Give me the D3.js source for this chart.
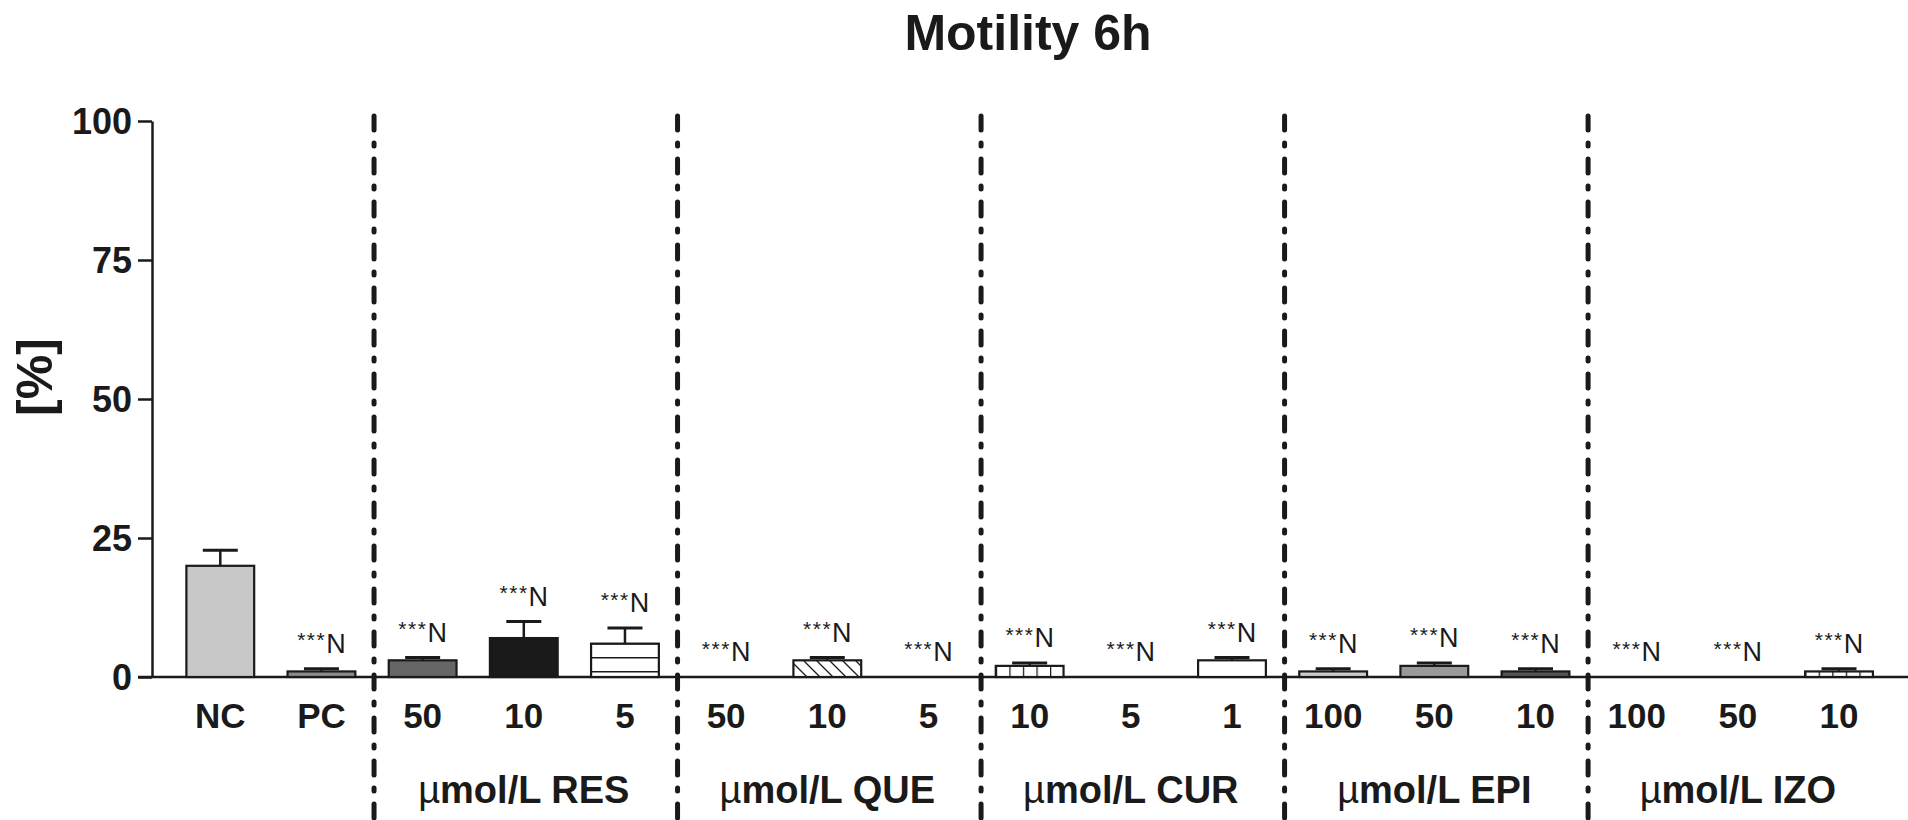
<!DOCTYPE html>
<html>
<head>
<meta charset="utf-8">
<script src="https://cdn.jsdelivr.net/npm/d3@7"></script>
<style>
  body { margin: 0; background: #fff; }
  text { font-family: "Liberation Sans", Arial, Helvetica, sans-serif; fill: #1a1a1a; }
</style>
</head>
<body>
<div class="stage"></div>
<script>
// data
var ids = ["NC","PC","RES50","RES10","RES5","QUE50","QUE10","QUE5","CUR10","CUR5","CUR1","EPI100","EPI50","EPI10","IZO100","IZO50","IZO10"];
var labels = ["NC","PC","50","10","5","50","10","5","10","5","1","100","50","10","100","50","10"];
var groupOf = [null,null,"RES","RES","RES","QUE","QUE","QUE","CUR","CUR","CUR","EPI","EPI","EPI","IZO","IZO","IZO"];
var groupNames = ["RES","QUE","CUR","EPI","IZO"];
var values = [20,1,3,7,6,0,3,0,2,0,3,1,2,1,0,0,1];
var errors = [2.8,0.5,0.5,3,2.8,0,0.5,0,0.5,0,0.5,0.5,0.5,0.5,0,0,0.5];
var signif = ["","***N","***N","***N","***N","***N","***N","***N","***N","***N","***N","***N","***N","***N","***N","***N","***N"];
var yTicks = [0,25,50,75,100];

// bar fills (styles)
var fills = ["#c8c8c8","#8a8a8a","#666666","#1a1a1a","url(#hlines)","#fff","url(#diag)","#fff","url(#vlines)","#fff","#fff","#cccccc","#999999","#555555","#fff","#fff","url(#vlines)"];

var W = 1908, H = 820;
var svg = d3.select(".stage").append("svg").attr("width", W).attr("height", H);
svg.append("rect").attr("width", W).attr("height", H).attr("fill", "#fff");

var defs = svg.append("defs");
var hp = defs.append("pattern").attr("id","hlines").attr("patternUnits","userSpaceOnUse")
  .attr("x",0).attr("y",657).attr("width",10).attr("height",14);
hp.append("rect").attr("width",10).attr("height",14).attr("fill","#fff");
hp.append("line").attr("x1",0).attr("x2",10).attr("y1",0.75).attr("y2",0.75).attr("stroke","#1a1a1a").attr("stroke-width",1.5);

var dp = defs.append("pattern").attr("id","diag").attr("patternUnits","userSpaceOnUse")
  .attr("width",13).attr("height",13);
dp.append("rect").attr("width",13).attr("height",13).attr("fill","#fff");
dp.append("path").attr("d","M-2,-2L15,15M-2,11L2,15M11,-2L15,2").attr("stroke","#1a1a1a").attr("stroke-width",1.3);

var vp = defs.append("pattern").attr("id","vlines").attr("patternUnits","objectBoundingBox")
  .attr("width",0.2).attr("height",1);
vp.append("rect").attr("width",20).attr("height",100).attr("fill","#fff");
vp.append("line").attr("x1",0.6).attr("x2",0.6).attr("y1",0).attr("y2",100).attr("stroke","#1a1a1a").attr("stroke-width",1.3);

var x = d3.scaleBand().domain(ids).range([169.7, 1889.6]).paddingInner(0.33).paddingOuter(0.165);
var y = d3.scaleLinear().domain([0,100]).range([677,121]);
var bw = x.bandwidth();

// title
svg.append("text").attr("x", 1028).attr("y", 50).attr("text-anchor","middle")
  .attr("font-size", 50).attr("font-weight","bold").text("Motility 6h");

// y label
svg.append("text").attr("transform","translate(52,377) rotate(-90)").attr("text-anchor","middle")
  .attr("font-size", 50).attr("font-weight","bold").text("[%]");

// group dividers
var dividers = [];
for (var i = 1; i < ids.length; i++) {
  if (groupOf[i] && groupOf[i] !== groupOf[i-1]) dividers.push((x(ids[i-1]) + x(ids[i]) + bw) / 2);
}
svg.selectAll("line.div").data(dividers).enter().append("line")
  .attr("class","div")
  .attr("x1", function(d){ return d + 2; }).attr("x2", function(d){ return d + 2; })
  .attr("y1", 116).attr("y2", 830)
  .attr("stroke","#1a1a1a").attr("stroke-width",5).attr("stroke-linecap","round")
  .attr("stroke-dasharray","14,13,3,13");

// y axis
var yAxis = svg.append("g").attr("transform","translate(152,0)")
  .call(d3.axisLeft(y).tickValues(yTicks).tickSize(14).tickSizeOuter(0).tickPadding(6));
yAxis.selectAll("path, line").attr("stroke","#1a1a1a").attr("stroke-width",2.5);
yAxis.selectAll("text").attr("font-size",36).attr("font-weight","bold").attr("fill","#1a1a1a")
  .attr("font-family",'"Liberation Sans", Arial, sans-serif').attr("dy","0.36em");

// baseline
svg.append("line").attr("x1",138).attr("x2",W).attr("y1",y(0)).attr("y2",y(0))
  .attr("stroke","#1a1a1a").attr("stroke-width",2.5);

var rows = ids.map(function(id, i){
  return {id:id, label:labels[i], v:values[i], e:errors[i], s:signif[i], fill:fills[i]};
});

// bars
svg.selectAll("rect.bar").data(rows.filter(function(d){ return d.v > 0; })).enter().append("rect")
  .attr("class","bar")
  .attr("x", function(d){ return x(d.id); })
  .attr("y", function(d){ return y(d.v); })
  .attr("width", bw)
  .attr("height", function(d){ return y(0) - y(d.v); })
  .attr("fill", function(d){ return d.fill; })
  .attr("stroke","#1a1a1a").attr("stroke-width",2.2);

// error bars
var eb = svg.selectAll("g.err").data(rows.filter(function(d){ return d.e > 0; })).enter().append("g").attr("class","err");
eb.append("line")
  .attr("x1", function(d){ return x(d.id) + bw/2; }).attr("x2", function(d){ return x(d.id) + bw/2; })
  .attr("y1", function(d){ return y(d.v); }).attr("y2", function(d){ return y(d.v + d.e); })
  .attr("stroke","#1a1a1a").attr("stroke-width",2.5);
eb.append("line")
  .attr("x1", function(d){ return x(d.id) + bw/2 - 17.5; }).attr("x2", function(d){ return x(d.id) + bw/2 + 17.5; })
  .attr("y1", function(d){ return y(d.v + d.e); }).attr("y2", function(d){ return y(d.v + d.e); })
  .attr("stroke","#1a1a1a").attr("stroke-width",3);

// significance labels
var sl = svg.selectAll("text.sig").data(rows.filter(function(d){ return d.s; })).enter().append("text")
  .attr("class","sig")
  .attr("x", function(d){ return x(d.id) + bw/2; })
  .attr("y", function(d){ return y(d.v + d.e) - 16; })
  .attr("text-anchor","middle");
sl.append("tspan").attr("font-size",21).attr("letter-spacing",1.5).attr("dy","-0.25em").text("***");
sl.append("tspan").attr("font-size",27).attr("dy","0.2em").text("N");

// category labels
svg.selectAll("text.cat").data(rows).enter().append("text")
  .attr("class","cat")
  .attr("x", function(d){ return x(d.id) + bw/2; })
  .attr("y", 728)
  .attr("text-anchor","middle").attr("font-size",35).attr("font-weight","bold")
  .text(function(d){ return d.label; });

// group labels
groupNames.forEach(function(g){
  var members = ids.filter(function(id, i){ return groupOf[i] === g; });
  var cx = d3.mean(members, function(id){ return x(id) + bw/2; });
  var t = svg.append("text").attr("x", cx).attr("y", 803).attr("text-anchor","middle")
    .attr("font-size",38).attr("font-weight","bold");
  t.append("tspan").attr("font-weight","normal").text("\u00b5");
  t.append("tspan").text("mol/L " + g);
});
</script>
</body>
</html>
